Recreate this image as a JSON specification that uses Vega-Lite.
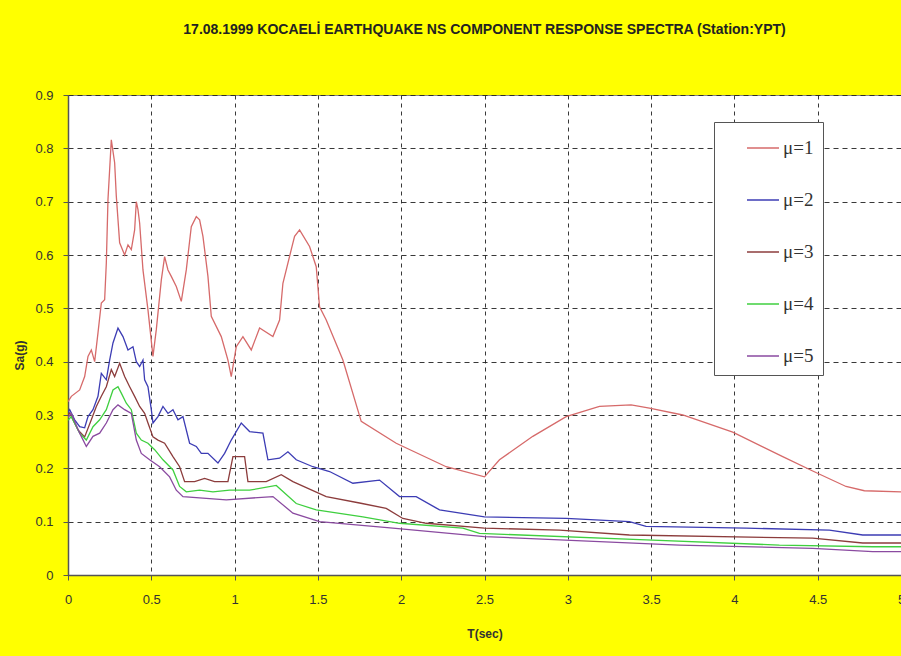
{
  "$schema": "https://vega.github.io/schema/vega-lite/v6.json",
  "autosize": {"type": "none"},
  "padding": {"left": 68, "top": 95, "right": 0, "bottom": 81},
  "width": 833,
  "height": 480,
  "background": "#ffff00",
  "title": {
    "text": "17.08.1999 KOCAELİ EARTHQUAKE NS COMPONENT RESPONSE SPECTRA (Station:YPT)",
    "font": "Liberation Sans",
    "fontSize": 14,
    "fontWeight": "bold",
    "color": "#222",
    "anchor": "middle",
    "offset": 52
  },
  "data": {"values": [
    {"mu":"μ=1","T":0,"Sa":0.325},{"mu":"μ=1","T":0.02,"Sa":0.335},{"mu":"μ=1","T":0.07,"Sa":0.347},{"mu":"μ=1","T":0.1,"Sa":0.372},{"mu":"μ=1","T":0.12,"Sa":0.41},{"mu":"μ=1","T":0.14,"Sa":0.422},{"mu":"μ=1","T":0.16,"Sa":0.4},{"mu":"μ=1","T":0.18,"Sa":0.454},{"mu":"μ=1","T":0.2,"Sa":0.51},{"mu":"μ=1","T":0.22,"Sa":0.516},{"mu":"μ=1","T":0.23,"Sa":0.585},{"mu":"μ=1","T":0.24,"Sa":0.704},{"mu":"μ=1","T":0.26,"Sa":0.816},{"mu":"μ=1","T":0.28,"Sa":0.773},{"mu":"μ=1","T":0.29,"Sa":0.71},{"mu":"μ=1","T":0.31,"Sa":0.623},{"mu":"μ=1","T":0.34,"Sa":0.6},{"mu":"μ=1","T":0.36,"Sa":0.619},{"mu":"μ=1","T":0.38,"Sa":0.61},{"mu":"μ=1","T":0.4,"Sa":0.647},{"mu":"μ=1","T":0.41,"Sa":0.7},{"mu":"μ=1","T":0.42,"Sa":0.685},{"mu":"μ=1","T":0.43,"Sa":0.66},{"mu":"μ=1","T":0.45,"Sa":0.572},{"mu":"μ=1","T":0.48,"Sa":0.497},{"mu":"μ=1","T":0.51,"Sa":0.41},{"mu":"μ=1","T":0.53,"Sa":0.46},{"mu":"μ=1","T":0.56,"Sa":0.553},{"mu":"μ=1","T":0.58,"Sa":0.597},{"mu":"μ=1","T":0.6,"Sa":0.572},{"mu":"μ=1","T":0.62,"Sa":0.56},{"mu":"μ=1","T":0.65,"Sa":0.541},{"mu":"μ=1","T":0.68,"Sa":0.513},{"mu":"μ=1","T":0.71,"Sa":0.572},{"mu":"μ=1","T":0.74,"Sa":0.653},{"mu":"μ=1","T":0.77,"Sa":0.672},{"mu":"μ=1","T":0.79,"Sa":0.666},{"mu":"μ=1","T":0.81,"Sa":0.635},{"mu":"μ=1","T":0.84,"Sa":0.56},{"mu":"μ=1","T":0.86,"Sa":0.485},{"mu":"μ=1","T":0.92,"Sa":0.447},{"mu":"μ=1","T":0.96,"Sa":0.403},{"mu":"μ=1","T":0.98,"Sa":0.372},{"mu":"μ=1","T":1.01,"Sa":0.428},{"mu":"μ=1","T":1.05,"Sa":0.447},{"mu":"μ=1","T":1.1,"Sa":0.422},{"mu":"μ=1","T":1.15,"Sa":0.463},{"mu":"μ=1","T":1.23,"Sa":0.447},{"mu":"μ=1","T":1.27,"Sa":0.478},{"mu":"μ=1","T":1.29,"Sa":0.547},{"mu":"μ=1","T":1.34,"Sa":0.61},{"mu":"μ=1","T":1.36,"Sa":0.635},{"mu":"μ=1","T":1.39,"Sa":0.647},{"mu":"μ=1","T":1.45,"Sa":0.616},{"mu":"μ=1","T":1.49,"Sa":0.578},{"mu":"μ=1","T":1.51,"Sa":0.503},{"mu":"μ=1","T":1.55,"Sa":0.478},{"mu":"μ=1","T":1.65,"Sa":0.403},{"mu":"μ=1","T":1.76,"Sa":0.288},{"mu":"μ=1","T":1.97,"Sa":0.247},{"mu":"μ=1","T":2.27,"Sa":0.203},{"mu":"μ=1","T":2.5,"Sa":0.184},{"mu":"μ=1","T":2.59,"Sa":0.216},{"mu":"μ=1","T":2.79,"Sa":0.26},{"mu":"μ=1","T":2.99,"Sa":0.297},{"mu":"μ=1","T":3.19,"Sa":0.316},{"mu":"μ=1","T":3.38,"Sa":0.319},{"mu":"μ=1","T":3.49,"Sa":0.313},{"mu":"μ=1","T":3.69,"Sa":0.3},{"mu":"μ=1","T":3.99,"Sa":0.268},{"mu":"μ=1","T":4.29,"Sa":0.222},{"mu":"μ=1","T":4.47,"Sa":0.195},{"mu":"μ=1","T":4.67,"Sa":0.166},{"mu":"μ=1","T":4.78,"Sa":0.158},{"mu":"μ=1","T":5,"Sa":0.156},

    {"mu":"μ=2","T":0,"Sa":0.305},{"mu":"μ=2","T":0.01,"Sa":0.31},{"mu":"μ=2","T":0.04,"Sa":0.291},{"mu":"μ=2","T":0.07,"Sa":0.278},{"mu":"μ=2","T":0.1,"Sa":0.276},{"mu":"μ=2","T":0.12,"Sa":0.297},{"mu":"μ=2","T":0.15,"Sa":0.31},{"mu":"μ=2","T":0.18,"Sa":0.335},{"mu":"μ=2","T":0.2,"Sa":0.378},{"mu":"μ=2","T":0.23,"Sa":0.366},{"mu":"μ=2","T":0.25,"Sa":0.403},{"mu":"μ=2","T":0.27,"Sa":0.435},{"mu":"μ=2","T":0.3,"Sa":0.463},{"mu":"μ=2","T":0.33,"Sa":0.447},{"mu":"μ=2","T":0.36,"Sa":0.422},{"mu":"μ=2","T":0.39,"Sa":0.428},{"mu":"μ=2","T":0.41,"Sa":0.4},{"mu":"μ=2","T":0.43,"Sa":0.391},{"mu":"μ=2","T":0.45,"Sa":0.403},{"mu":"μ=2","T":0.46,"Sa":0.366},{"mu":"μ=2","T":0.48,"Sa":0.353},{"mu":"μ=2","T":0.5,"Sa":0.31},{"mu":"μ=2","T":0.51,"Sa":0.285},{"mu":"μ=2","T":0.54,"Sa":0.297},{"mu":"μ=2","T":0.57,"Sa":0.316},{"mu":"μ=2","T":0.6,"Sa":0.303},{"mu":"μ=2","T":0.63,"Sa":0.31},{"mu":"μ=2","T":0.66,"Sa":0.291},{"mu":"μ=2","T":0.69,"Sa":0.297},{"mu":"μ=2","T":0.73,"Sa":0.247},{"mu":"μ=2","T":0.77,"Sa":0.241},{"mu":"μ=2","T":0.8,"Sa":0.228},{"mu":"μ=2","T":0.84,"Sa":0.228},{"mu":"μ=2","T":0.9,"Sa":0.21},{"mu":"μ=2","T":0.94,"Sa":0.228},{"mu":"μ=2","T":0.98,"Sa":0.253},{"mu":"μ=2","T":1.04,"Sa":0.285},{"mu":"μ=2","T":1.09,"Sa":0.269},{"mu":"μ=2","T":1.17,"Sa":0.266},{"mu":"μ=2","T":1.2,"Sa":0.216},{"mu":"μ=2","T":1.27,"Sa":0.219},{"mu":"μ=2","T":1.32,"Sa":0.231},{"mu":"μ=2","T":1.37,"Sa":0.216},{"mu":"μ=2","T":1.47,"Sa":0.203},{"mu":"μ=2","T":1.57,"Sa":0.194},{"mu":"μ=2","T":1.71,"Sa":0.172},{"mu":"μ=2","T":1.87,"Sa":0.178},{"mu":"μ=2","T":1.99,"Sa":0.147},{"mu":"μ=2","T":2.09,"Sa":0.147},{"mu":"μ=2","T":2.23,"Sa":0.122},{"mu":"μ=2","T":2.5,"Sa":0.109},{"mu":"μ=2","T":2.99,"Sa":0.106},{"mu":"μ=2","T":3.37,"Sa":0.1},{"mu":"μ=2","T":3.47,"Sa":0.091},{"mu":"μ=2","T":4.07,"Sa":0.088},{"mu":"μ=2","T":4.57,"Sa":0.084},{"mu":"μ=2","T":4.77,"Sa":0.075},{"mu":"μ=2","T":5,"Sa":0.075},

    {"mu":"μ=3","T":0,"Sa":0.3},{"mu":"μ=3","T":0.01,"Sa":0.304},{"mu":"μ=3","T":0.06,"Sa":0.272},{"mu":"μ=3","T":0.1,"Sa":0.259},{"mu":"μ=3","T":0.14,"Sa":0.291},{"mu":"μ=3","T":0.17,"Sa":0.316},{"mu":"μ=3","T":0.2,"Sa":0.335},{"mu":"μ=3","T":0.23,"Sa":0.353},{"mu":"μ=3","T":0.26,"Sa":0.385},{"mu":"μ=3","T":0.28,"Sa":0.372},{"mu":"μ=3","T":0.31,"Sa":0.397},{"mu":"μ=3","T":0.34,"Sa":0.372},{"mu":"μ=3","T":0.37,"Sa":0.353},{"mu":"μ=3","T":0.4,"Sa":0.335},{"mu":"μ=3","T":0.43,"Sa":0.316},{"mu":"μ=3","T":0.46,"Sa":0.303},{"mu":"μ=3","T":0.48,"Sa":0.285},{"mu":"μ=3","T":0.51,"Sa":0.259},{"mu":"μ=3","T":0.54,"Sa":0.253},{"mu":"μ=3","T":0.58,"Sa":0.247},{"mu":"μ=3","T":0.63,"Sa":0.222},{"mu":"μ=3","T":0.67,"Sa":0.203},{"mu":"μ=3","T":0.7,"Sa":0.175},{"mu":"μ=3","T":0.76,"Sa":0.175},{"mu":"μ=3","T":0.82,"Sa":0.181},{"mu":"μ=3","T":0.88,"Sa":0.175},{"mu":"μ=3","T":0.96,"Sa":0.175},{"mu":"μ=3","T":0.99,"Sa":0.222},{"mu":"μ=3","T":1.06,"Sa":0.222},{"mu":"μ=3","T":1.08,"Sa":0.175},{"mu":"μ=3","T":1.19,"Sa":0.175},{"mu":"μ=3","T":1.28,"Sa":0.188},{"mu":"μ=3","T":1.35,"Sa":0.175},{"mu":"μ=3","T":1.55,"Sa":0.147},{"mu":"μ=3","T":1.75,"Sa":0.135},{"mu":"μ=3","T":1.91,"Sa":0.125},{"mu":"μ=3","T":2.01,"Sa":0.106},{"mu":"μ=3","T":2.15,"Sa":0.097},{"mu":"μ=3","T":2.5,"Sa":0.088},{"mu":"μ=3","T":2.95,"Sa":0.084},{"mu":"μ=3","T":3.37,"Sa":0.075},{"mu":"μ=3","T":4.47,"Sa":0.069},{"mu":"μ=3","T":4.77,"Sa":0.06},{"mu":"μ=3","T":5,"Sa":0.06},

    {"mu":"μ=4","T":0,"Sa":0.29},{"mu":"μ=4","T":0.02,"Sa":0.297},{"mu":"μ=4","T":0.07,"Sa":0.266},{"mu":"μ=4","T":0.11,"Sa":0.253},{"mu":"μ=4","T":0.15,"Sa":0.278},{"mu":"μ=4","T":0.19,"Sa":0.291},{"mu":"μ=4","T":0.23,"Sa":0.31},{"mu":"μ=4","T":0.27,"Sa":0.347},{"mu":"μ=4","T":0.3,"Sa":0.353},{"mu":"μ=4","T":0.32,"Sa":0.341},{"mu":"μ=4","T":0.35,"Sa":0.322},{"mu":"μ=4","T":0.38,"Sa":0.31},{"mu":"μ=4","T":0.41,"Sa":0.266},{"mu":"μ=4","T":0.44,"Sa":0.253},{"mu":"μ=4","T":0.48,"Sa":0.247},{"mu":"μ=4","T":0.52,"Sa":0.235},{"mu":"μ=4","T":0.57,"Sa":0.216},{"mu":"μ=4","T":0.63,"Sa":0.197},{"mu":"μ=4","T":0.67,"Sa":0.166},{"mu":"μ=4","T":0.71,"Sa":0.156},{"mu":"μ=4","T":0.79,"Sa":0.159},{"mu":"μ=4","T":0.87,"Sa":0.156},{"mu":"μ=4","T":0.97,"Sa":0.159},{"mu":"μ=4","T":1.09,"Sa":0.159},{"mu":"μ=4","T":1.25,"Sa":0.168},{"mu":"μ=4","T":1.37,"Sa":0.134},{"mu":"μ=4","T":1.49,"Sa":0.122},{"mu":"μ=4","T":1.77,"Sa":0.109},{"mu":"μ=4","T":1.99,"Sa":0.097},{"mu":"μ=4","T":2.37,"Sa":0.088},{"mu":"μ=4","T":2.47,"Sa":0.078},{"mu":"μ=4","T":3.47,"Sa":0.066},{"mu":"μ=4","T":4.27,"Sa":0.056},{"mu":"μ=4","T":4.83,"Sa":0.053},{"mu":"μ=4","T":5,"Sa":0.053},

    {"mu":"μ=5","T":0,"Sa":0.295},{"mu":"μ=5","T":0.02,"Sa":0.303},{"mu":"μ=5","T":0.07,"Sa":0.266},{"mu":"μ=5","T":0.11,"Sa":0.241},{"mu":"μ=5","T":0.15,"Sa":0.26},{"mu":"μ=5","T":0.19,"Sa":0.266},{"mu":"μ=5","T":0.23,"Sa":0.285},{"mu":"μ=5","T":0.27,"Sa":0.31},{"mu":"μ=5","T":0.3,"Sa":0.319},{"mu":"μ=5","T":0.34,"Sa":0.31},{"mu":"μ=5","T":0.38,"Sa":0.303},{"mu":"μ=5","T":0.41,"Sa":0.253},{"mu":"μ=5","T":0.44,"Sa":0.228},{"mu":"μ=5","T":0.49,"Sa":0.216},{"mu":"μ=5","T":0.55,"Sa":0.203},{"mu":"μ=5","T":0.61,"Sa":0.184},{"mu":"μ=5","T":0.65,"Sa":0.159},{"mu":"μ=5","T":0.69,"Sa":0.147},{"mu":"μ=5","T":0.95,"Sa":0.141},{"mu":"μ=5","T":1.23,"Sa":0.147},{"mu":"μ=5","T":1.35,"Sa":0.116},{"mu":"μ=5","T":1.51,"Sa":0.1},{"mu":"μ=5","T":1.95,"Sa":0.088},{"mu":"μ=5","T":2.5,"Sa":0.072},{"mu":"μ=5","T":3.67,"Sa":0.056},{"mu":"μ=5","T":4.47,"Sa":0.05},{"mu":"μ=5","T":4.83,"Sa":0.044},{"mu":"μ=5","T":5,"Sa":0.044}
  ]},
  "mark": {"type": "line", "strokeWidth": 1.3, "clip": true},
  "encoding": {
    "x": {
      "field": "T", "type": "quantitative",
      "scale": {"domain": [0, 5], "nice": false, "zero": false},
      "axis": {
        "title": "T(sec)",
        "values": [0, 0.5, 1, 1.5, 2, 2.5, 3, 3.5, 4, 4.5, 5],
        "format": "~g",
        "grid": true, "gridColor": "#222", "gridDash": [4, 4], "gridWidth": 1, "gridOpacity": 0.9,
        "domainColor": "#555", "domainWidth": 1.5,
        "tickColor": "#555", "tickSize": 5, "tickWidth": 1,
        "labelFont": "Liberation Sans Narrow, Liberation Sans", "labelFontSize": 13, "labelColor": "#333", "labelPadding": 13,
        "labelFlush": false, "labelOverlap": false,
        "titleFont": "Liberation Sans Narrow, Liberation Sans", "titleFontSize": 12, "titleFontWeight": "bold", "titleColor": "#333", "titlePadding": 22
      }
    },
    "y": {
      "field": "Sa", "type": "quantitative",
      "scale": {"domain": [0, 0.9], "nice": false},
      "axis": {
        "title": "Sa(g)",
        "values": [0, 0.1, 0.2, 0.3, 0.4, 0.5, 0.6, 0.7, 0.8, 0.9],
        "format": "~g",
        "grid": true, "gridColor": "#222", "gridDash": [5, 4], "gridWidth": 1, "gridOpacity": 0.9,
        "domainColor": "#555", "domainWidth": 1.5,
        "tickColor": "#555", "tickSize": 5, "tickWidth": 1,
        "labelFont": "Liberation Sans Narrow, Liberation Sans", "labelFontSize": 13, "labelColor": "#333", "labelPadding": 10,
        "labelFlush": false, "labelOverlap": false,
        "titleFont": "Liberation Sans Narrow, Liberation Sans", "titleFontSize": 12, "titleFontWeight": "bold", "titleColor": "#333", "titlePadding": 8, "titleY": 260
      }
    },
    "color": {
      "field": "mu", "type": "nominal",
      "scale": {
        "domain": ["μ=1", "μ=2", "μ=3", "μ=4", "μ=5"],
        "range": ["#d66a6a", "#3c3cb4", "#8c3c3c", "#3fcf3f", "#8a4aa0"]
      },
      "legend": {
        "orient": "none", "legendX": 646, "legendY": 27,
        "title": null,
        "symbolType": "stroke", "symbolSize": 1024, "symbolStrokeWidth": 1.5,
        "labelFont": "Liberation Serif", "labelFontSize": 19, "labelColor": "#333",
        "fillColor": "white", "strokeColor": "#555",
        "padding": 9, "rowPadding": 25, "symbolOffset": 23, "labelOffset": 3,
        "labelExpr": "datum.label + '\u2007\u2007\u2007\u2007'"
      }
    }
  },
  "config": {
    "view": {"fill": "white", "stroke": "#888", "strokeWidth": 1}
  }
}
